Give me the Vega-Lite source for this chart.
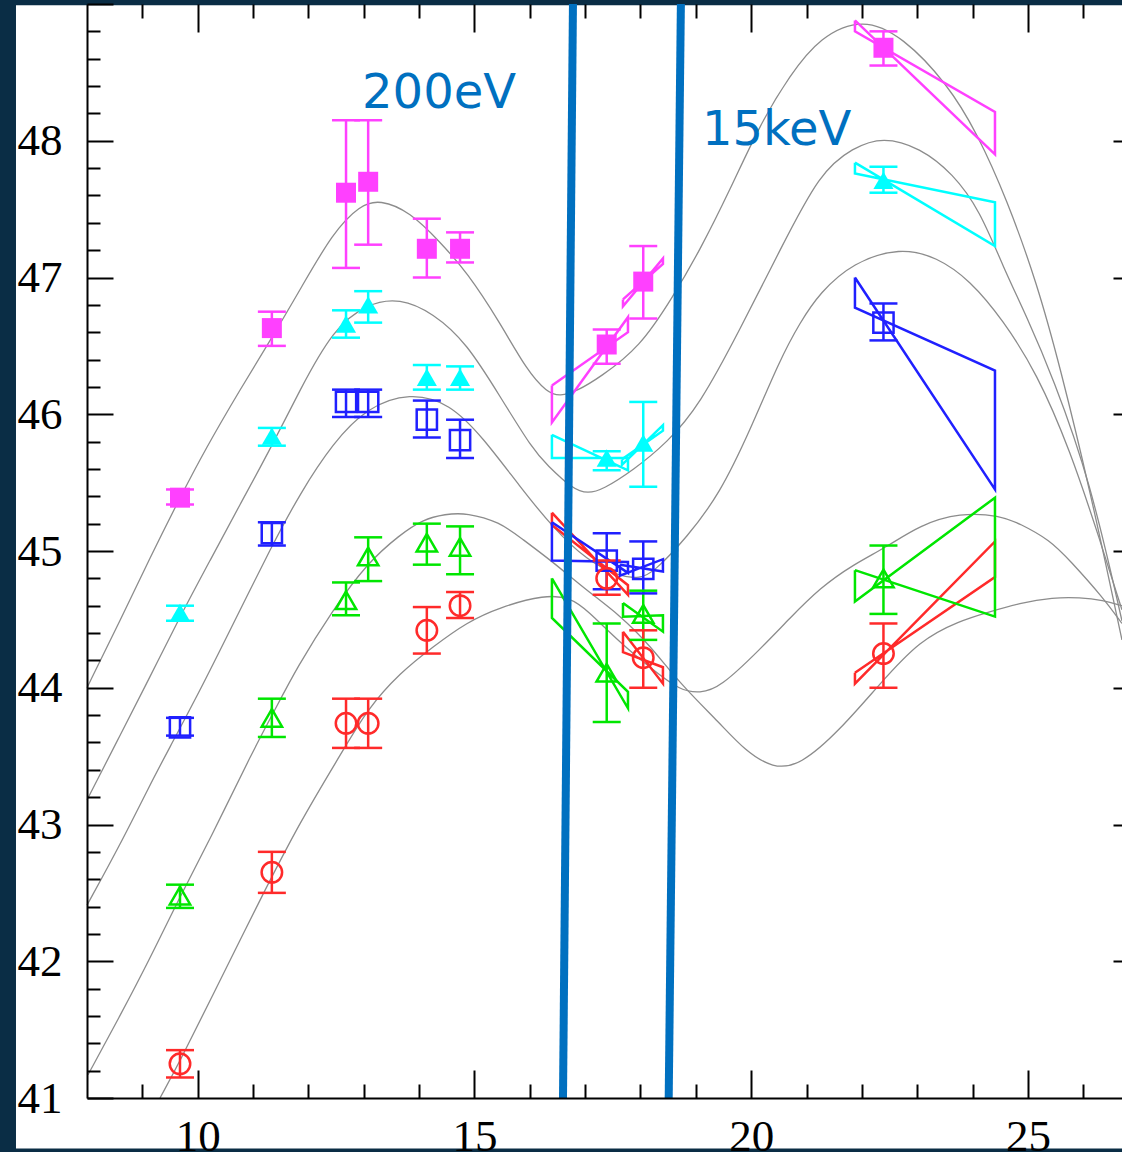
{
  "$schema": "https://vega.github.io/schema/vega-lite/v6.json",
  "width": 1035,
  "height": 1094,
  "autosize": {"type": "none"},
  "padding": {"left": 87, "top": 4, "right": 0, "bottom": 54},
  "background": "#0a2d45",
  "config": {
    "view": {"stroke": null},
    "axis": {"grid": false, "title": null, "zindex": 1, "domainColor": "#000000", "tickColor": "#000000", "labelColor": "#000000", "domainWidth": 2, "tickWidth": 2, "labelFont": "Liberation Serif", "labelFontSize": 45, "labelFlush": false, "labelOverlap": false}
  },
  "resolve": {"axis": {"x": "independent", "y": "independent"}},
  "datasets": {
    "bg": [{"x": 6.717, "x2": 27.5, "y": 40.63, "y2": 48.99}],
    "pts": [
      {"s": "mag", "x": 9.68, "y": 45.39, "lo": 45.34, "hi": 45.45},
      {"s": "mag", "x": 11.34, "y": 46.63, "lo": 46.50, "hi": 46.75},
      {"s": "mag", "x": 12.68, "y": 47.62, "lo": 47.07, "hi": 48.15},
      {"s": "mag", "x": 13.08, "y": 47.70, "lo": 47.24, "hi": 48.15},
      {"s": "mag", "x": 14.14, "y": 47.21, "lo": 47.00, "hi": 47.43},
      {"s": "mag", "x": 14.74, "y": 47.21, "lo": 47.11, "hi": 47.33},
      {"s": "mag", "x": 17.39, "y": 46.51, "lo": 46.37, "hi": 46.62},
      {"s": "mag", "x": 18.05, "y": 46.97, "lo": 46.70, "hi": 47.23},
      {"s": "mag", "x": 22.39, "y": 48.68, "lo": 48.55, "hi": 48.80},
      {"s": "cyan", "x": 9.68, "y": 44.55, "lo": 44.49, "hi": 44.60},
      {"s": "cyan", "x": 11.34, "y": 45.84, "lo": 45.77, "hi": 45.90},
      {"s": "cyan", "x": 12.68, "y": 46.66, "lo": 46.56, "hi": 46.76},
      {"s": "cyan", "x": 13.08, "y": 46.80, "lo": 46.67, "hi": 46.90},
      {"s": "cyan", "x": 14.14, "y": 46.27, "lo": 46.18, "hi": 46.36},
      {"s": "cyan", "x": 14.74, "y": 46.27, "lo": 46.18, "hi": 46.35},
      {"s": "cyan", "x": 17.39, "y": 45.68, "lo": 45.59, "hi": 45.73},
      {"s": "cyan", "x": 18.05, "y": 45.79, "lo": 45.47, "hi": 46.09},
      {"s": "cyan", "x": 22.39, "y": 47.71, "lo": 47.62, "hi": 47.81},
      {"s": "blue", "x": 9.68, "y": 43.71, "lo": 43.65, "hi": 43.78},
      {"s": "blue", "x": 11.34, "y": 45.13, "lo": 45.04, "hi": 45.21},
      {"s": "blue", "x": 12.68, "y": 46.09, "lo": 45.98, "hi": 46.18},
      {"s": "blue", "x": 13.08, "y": 46.09, "lo": 45.98, "hi": 46.18},
      {"s": "blue", "x": 14.14, "y": 45.96, "lo": 45.83, "hi": 46.10},
      {"s": "blue", "x": 14.74, "y": 45.81, "lo": 45.68, "hi": 45.96},
      {"s": "blue", "x": 17.39, "y": 44.93, "lo": 44.72, "hi": 45.13},
      {"s": "blue", "x": 18.05, "y": 44.87, "lo": 44.69, "hi": 45.07},
      {"s": "blue", "x": 22.39, "y": 46.67, "lo": 46.54, "hi": 46.81},
      {"s": "green", "x": 9.68, "y": 42.48, "lo": 42.39, "hi": 42.56},
      {"s": "green", "x": 11.34, "y": 43.78, "lo": 43.64, "hi": 43.92},
      {"s": "green", "x": 12.68, "y": 44.64, "lo": 44.53, "hi": 44.77},
      {"s": "green", "x": 13.08, "y": 44.96, "lo": 44.78, "hi": 45.10},
      {"s": "green", "x": 14.14, "y": 45.06, "lo": 44.90, "hi": 45.20},
      {"s": "green", "x": 14.74, "y": 45.03, "lo": 44.83, "hi": 45.18},
      {"s": "green", "x": 17.39, "y": 44.11, "lo": 43.75, "hi": 44.47},
      {"s": "green", "x": 18.05, "y": 44.54, "lo": 44.35, "hi": 44.71},
      {"s": "green", "x": 22.39, "y": 44.80, "lo": 44.54, "hi": 45.04},
      {"s": "red", "x": 9.68, "y": 41.25, "lo": 41.15, "hi": 41.35},
      {"s": "red", "x": 11.34, "y": 42.65, "lo": 42.50, "hi": 42.80},
      {"s": "red", "x": 12.68, "y": 43.74, "lo": 43.56, "hi": 43.92},
      {"s": "red", "x": 13.08, "y": 43.74, "lo": 43.56, "hi": 43.92},
      {"s": "red", "x": 14.14, "y": 44.42, "lo": 44.25, "hi": 44.59},
      {"s": "red", "x": 14.74, "y": 44.60, "lo": 44.51, "hi": 44.70},
      {"s": "red", "x": 17.39, "y": 44.80, "lo": 44.68, "hi": 44.93},
      {"s": "red", "x": 18.05, "y": 44.22, "lo": 44.00, "hi": 44.42},
      {"s": "red", "x": 22.39, "y": 44.25, "lo": 44.00, "hi": 44.47}
    ],
    "bows": [
      {"id": "mHX", "s": "mag", "o": 1, "x": 21.875, "y": 48.88}, {"id": "mHX", "s": "mag", "o": 2, "x": 24.405, "y": 47.90}, {"id": "mHX", "s": "mag", "o": 3, "x": 24.405, "y": 48.21}, {"id": "mHX", "s": "mag", "o": 4, "x": 21.875, "y": 48.80}, {"id": "mHX", "s": "mag", "o": 5, "x": 21.875, "y": 48.88},
      {"id": "cHX", "s": "cyan", "o": 1, "x": 21.875, "y": 47.84}, {"id": "cHX", "s": "cyan", "o": 2, "x": 24.405, "y": 47.23}, {"id": "cHX", "s": "cyan", "o": 3, "x": 24.405, "y": 47.55}, {"id": "cHX", "s": "cyan", "o": 4, "x": 21.875, "y": 47.76}, {"id": "cHX", "s": "cyan", "o": 5, "x": 21.875, "y": 47.84},
      {"id": "bHX", "s": "blue", "o": 1, "x": 21.875, "y": 47.00}, {"id": "bHX", "s": "blue", "o": 2, "x": 24.405, "y": 45.45}, {"id": "bHX", "s": "blue", "o": 3, "x": 24.405, "y": 46.32}, {"id": "bHX", "s": "blue", "o": 4, "x": 21.875, "y": 46.78}, {"id": "bHX", "s": "blue", "o": 5, "x": 21.875, "y": 47.00},
      {"id": "rHX", "s": "red", "o": 1, "x": 21.875, "y": 44.11}, {"id": "rHX", "s": "red", "o": 2, "x": 24.405, "y": 44.81}, {"id": "rHX", "s": "red", "o": 3, "x": 24.405, "y": 45.07}, {"id": "rHX", "s": "red", "o": 4, "x": 21.875, "y": 44.03}, {"id": "rHX", "s": "red", "o": 5, "x": 21.875, "y": 44.11},
      {"id": "gHX", "s": "green", "o": 1, "x": 21.875, "y": 44.86}, {"id": "gHX", "s": "green", "o": 2, "x": 24.405, "y": 44.52}, {"id": "gHX", "s": "green", "o": 3, "x": 24.405, "y": 45.39}, {"id": "gHX", "s": "green", "o": 4, "x": 21.875, "y": 44.63}, {"id": "gHX", "s": "green", "o": 5, "x": 21.875, "y": 44.86},
      {"id": "mS1", "s": "mag", "o": 1, "x": 16.40, "y": 46.21}, {"id": "mS1", "s": "mag", "o": 2, "x": 17.774, "y": 46.60}, {"id": "mS1", "s": "mag", "o": 3, "x": 17.774, "y": 46.71}, {"id": "mS1", "s": "mag", "o": 4, "x": 16.40, "y": 45.94}, {"id": "mS1", "s": "mag", "o": 5, "x": 16.40, "y": 46.21},
      {"id": "cS1", "s": "cyan", "o": 1, "x": 16.40, "y": 45.85}, {"id": "cS1", "s": "cyan", "o": 2, "x": 17.774, "y": 45.59}, {"id": "cS1", "s": "cyan", "o": 3, "x": 17.774, "y": 45.68}, {"id": "cS1", "s": "cyan", "o": 4, "x": 16.40, "y": 45.68}, {"id": "cS1", "s": "cyan", "o": 5, "x": 16.40, "y": 45.85},
      {"id": "rS1", "s": "red", "o": 1, "x": 16.40, "y": 45.28}, {"id": "rS1", "s": "red", "o": 2, "x": 17.774, "y": 44.68}, {"id": "rS1", "s": "red", "o": 3, "x": 17.774, "y": 44.75}, {"id": "rS1", "s": "red", "o": 4, "x": 16.40, "y": 45.19}, {"id": "rS1", "s": "red", "o": 5, "x": 16.40, "y": 45.28},
      {"id": "bS1", "s": "blue", "o": 1, "x": 16.40, "y": 45.21}, {"id": "bS1", "s": "blue", "o": 2, "x": 17.774, "y": 44.84}, {"id": "bS1", "s": "blue", "o": 3, "x": 17.774, "y": 44.92}, {"id": "bS1", "s": "blue", "o": 4, "x": 16.40, "y": 44.93}, {"id": "bS1", "s": "blue", "o": 5, "x": 16.40, "y": 45.21},
      {"id": "gS1", "s": "green", "o": 1, "x": 16.40, "y": 44.80}, {"id": "gS1", "s": "green", "o": 2, "x": 17.774, "y": 43.85}, {"id": "gS1", "s": "green", "o": 3, "x": 17.774, "y": 43.97}, {"id": "gS1", "s": "green", "o": 4, "x": 16.40, "y": 44.51}, {"id": "gS1", "s": "green", "o": 5, "x": 16.40, "y": 44.80},
      {"id": "mS2", "s": "mag", "o": 1, "x": 17.684, "y": 46.84}, {"id": "mS2", "s": "mag", "o": 2, "x": 18.406, "y": 47.10}, {"id": "mS2", "s": "mag", "o": 3, "x": 18.406, "y": 47.14}, {"id": "mS2", "s": "mag", "o": 4, "x": 17.684, "y": 46.79}, {"id": "mS2", "s": "mag", "o": 5, "x": 17.684, "y": 46.84},
      {"id": "cS2", "s": "cyan", "o": 1, "x": 17.666, "y": 45.67}, {"id": "cS2", "s": "cyan", "o": 2, "x": 18.406, "y": 45.88}, {"id": "cS2", "s": "cyan", "o": 3, "x": 18.406, "y": 45.92}, {"id": "cS2", "s": "cyan", "o": 4, "x": 17.666, "y": 45.63}, {"id": "cS2", "s": "cyan", "o": 5, "x": 17.666, "y": 45.67},
      {"id": "rS2", "s": "red", "o": 1, "x": 17.684, "y": 44.41}, {"id": "rS2", "s": "red", "o": 2, "x": 18.406, "y": 44.03}, {"id": "rS2", "s": "red", "o": 3, "x": 18.406, "y": 44.15}, {"id": "rS2", "s": "red", "o": 4, "x": 17.684, "y": 44.26}, {"id": "rS2", "s": "red", "o": 5, "x": 17.684, "y": 44.41},
      {"id": "bS2", "s": "blue", "o": 1, "x": 17.63, "y": 44.90}, {"id": "bS2", "s": "blue", "o": 2, "x": 18.406, "y": 44.85}, {"id": "bS2", "s": "blue", "o": 3, "x": 18.406, "y": 44.94}, {"id": "bS2", "s": "blue", "o": 4, "x": 17.63, "y": 44.82}, {"id": "bS2", "s": "blue", "o": 5, "x": 17.63, "y": 44.90},
      {"id": "gS2", "s": "green", "o": 1, "x": 17.684, "y": 44.62}, {"id": "gS2", "s": "green", "o": 2, "x": 18.406, "y": 44.41}, {"id": "gS2", "s": "green", "o": 3, "x": 18.406, "y": 44.53}, {"id": "gS2", "s": "green", "o": 4, "x": 17.684, "y": 44.52}, {"id": "gS2", "s": "green", "o": 5, "x": 17.684, "y": 44.62}
    ],
    "curves": [
      {"c": "M", "x": 8.000, "y": 44.00}, {"c": "M", "x": 8.596, "y": 44.49}, {"c": "M", "x": 9.138, "y": 44.95}, {"c": "M", "x": 9.680, "y": 45.39}, {"c": "M", "x": 10.132, "y": 45.74}, {"c": "M", "x": 10.764, "y": 46.18}, {"c": "M", "x": 11.342, "y": 46.56}, {"c": "M", "x": 11.848, "y": 46.91}, {"c": "M", "x": 12.444, "y": 47.33}, {"c": "M", "x": 12.932, "y": 47.53}, {"c": "M", "x": 13.294, "y": 47.57}, {"c": "M", "x": 13.836, "y": 47.48}, {"c": "M", "x": 14.378, "y": 47.26}, {"c": "M", "x": 14.865, "y": 47.04}, {"c": "M", "x": 15.462, "y": 46.67}, {"c": "M", "x": 15.949, "y": 46.32}, {"c": "M", "x": 16.311, "y": 46.16}, {"c": "M", "x": 16.546, "y": 46.13}, {"c": "M", "x": 16.853, "y": 46.17}, {"c": "M", "x": 17.268, "y": 46.27}, {"c": "M", "x": 17.991, "y": 46.49}, {"c": "M", "x": 18.588, "y": 46.86}, {"c": "M", "x": 19.075, "y": 47.20}, {"c": "M", "x": 19.617, "y": 47.64}, {"c": "M", "x": 20.159, "y": 48.12}, {"c": "M", "x": 20.701, "y": 48.48}, {"c": "M", "x": 21.243, "y": 48.76}, {"c": "M", "x": 22.020, "y": 48.90}, {"c": "M", "x": 22.742, "y": 48.76}, {"c": "M", "x": 23.537, "y": 48.42}, {"c": "M", "x": 24.079, "y": 48.06}, {"c": "M", "x": 24.621, "y": 47.57}, {"c": "M", "x": 25.163, "y": 46.96}, {"c": "M", "x": 25.579, "y": 46.35}, {"c": "M", "x": 26.121, "y": 45.45}, {"c": "M", "x": 26.699, "y": 44.35},
      {"c": "C", "x": 8.000, "y": 43.18}, {"c": "C", "x": 8.596, "y": 43.65}, {"c": "C", "x": 9.138, "y": 44.08}, {"c": "C", "x": 9.680, "y": 44.52}, {"c": "C", "x": 10.222, "y": 44.93}, {"c": "C", "x": 10.764, "y": 45.34}, {"c": "C", "x": 11.306, "y": 45.74}, {"c": "C", "x": 11.848, "y": 46.18}, {"c": "C", "x": 12.444, "y": 46.62}, {"c": "C", "x": 13.059, "y": 46.81}, {"c": "C", "x": 13.655, "y": 46.85}, {"c": "C", "x": 14.251, "y": 46.74}, {"c": "C", "x": 14.865, "y": 46.52}, {"c": "C", "x": 15.462, "y": 46.13}, {"c": "C", "x": 16.058, "y": 45.74}, {"c": "C", "x": 16.311, "y": 45.63}, {"c": "C", "x": 16.780, "y": 45.45}, {"c": "C", "x": 17.051, "y": 45.42}, {"c": "C", "x": 17.322, "y": 45.45}, {"c": "C", "x": 17.864, "y": 45.59}, {"c": "C", "x": 18.479, "y": 45.79}, {"c": "C", "x": 19.075, "y": 46.07}, {"c": "C", "x": 19.797, "y": 46.62}, {"c": "C", "x": 20.520, "y": 47.20}, {"c": "C", "x": 21.243, "y": 47.77}, {"c": "C", "x": 21.839, "y": 47.95}, {"c": "C", "x": 22.381, "y": 48.03}, {"c": "C", "x": 23.049, "y": 47.95}, {"c": "C", "x": 23.646, "y": 47.76}, {"c": "C", "x": 24.133, "y": 47.49}, {"c": "C", "x": 24.549, "y": 47.08}, {"c": "C", "x": 24.983, "y": 46.71}, {"c": "C", "x": 25.452, "y": 46.27}, {"c": "C", "x": 26.121, "y": 45.52}, {"c": "C", "x": 26.699, "y": 44.49},
      {"c": "B", "x": 8.000, "y": 42.41}, {"c": "B", "x": 8.596, "y": 42.85}, {"c": "B", "x": 9.138, "y": 43.29}, {"c": "B", "x": 9.463, "y": 43.54}, {"c": "B", "x": 10.042, "y": 43.98}, {"c": "B", "x": 10.584, "y": 44.42}, {"c": "B", "x": 11.342, "y": 45.04}, {"c": "B", "x": 11.848, "y": 45.42}, {"c": "B", "x": 12.444, "y": 45.79}, {"c": "B", "x": 13.059, "y": 46.05}, {"c": "B", "x": 13.836, "y": 46.16}, {"c": "B", "x": 14.558, "y": 46.08}, {"c": "B", "x": 15.154, "y": 45.83}, {"c": "B", "x": 15.823, "y": 45.47}, {"c": "B", "x": 16.419, "y": 45.17}, {"c": "B", "x": 17.033, "y": 44.93}, {"c": "B", "x": 17.630, "y": 44.81}, {"c": "B", "x": 17.991, "y": 44.80}, {"c": "B", "x": 18.226, "y": 44.84}, {"c": "B", "x": 18.840, "y": 45.10}, {"c": "B", "x": 19.436, "y": 45.42}, {"c": "B", "x": 19.978, "y": 45.88}, {"c": "B", "x": 20.520, "y": 46.40}, {"c": "B", "x": 20.881, "y": 46.67}, {"c": "B", "x": 21.243, "y": 46.89}, {"c": "B", "x": 21.839, "y": 47.11}, {"c": "B", "x": 22.688, "y": 47.22}, {"c": "B", "x": 23.357, "y": 47.15}, {"c": "B", "x": 23.953, "y": 46.98}, {"c": "B", "x": 24.549, "y": 46.69}, {"c": "B", "x": 25.163, "y": 46.30}, {"c": "B", "x": 25.760, "y": 45.74}, {"c": "B", "x": 26.302, "y": 45.08}, {"c": "B", "x": 26.699, "y": 44.57},
      {"c": "G", "x": 8.018, "y": 41.17}, {"c": "G", "x": 8.596, "y": 41.60}, {"c": "G", "x": 9.138, "y": 42.02}, {"c": "G", "x": 9.626, "y": 42.43}, {"c": "G", "x": 10.222, "y": 42.89}, {"c": "G", "x": 10.999, "y": 43.54}, {"c": "G", "x": 11.360, "y": 43.81}, {"c": "G", "x": 11.794, "y": 44.15}, {"c": "G", "x": 12.444, "y": 44.57}, {"c": "G", "x": 13.059, "y": 44.91}, {"c": "G", "x": 13.655, "y": 45.12}, {"c": "G", "x": 14.070, "y": 45.23}, {"c": "G", "x": 14.468, "y": 45.27}, {"c": "G", "x": 14.865, "y": 45.28}, {"c": "G", "x": 15.462, "y": 45.21}, {"c": "G", "x": 15.823, "y": 45.10}, {"c": "G", "x": 16.419, "y": 44.92}, {"c": "G", "x": 17.033, "y": 44.71}, {"c": "G", "x": 17.630, "y": 44.53}, {"c": "G", "x": 18.172, "y": 44.31}, {"c": "G", "x": 18.714, "y": 44.03}, {"c": "G", "x": 19.436, "y": 43.74}, {"c": "G", "x": 19.888, "y": 43.54}, {"c": "G", "x": 20.394, "y": 43.41}, {"c": "G", "x": 20.881, "y": 43.43}, {"c": "G", "x": 21.604, "y": 43.69}, {"c": "G", "x": 22.327, "y": 44.03}, {"c": "G", "x": 23.049, "y": 44.35}, {"c": "G", "x": 23.772, "y": 44.49}, {"c": "G", "x": 24.260, "y": 44.55}, {"c": "G", "x": 24.856, "y": 44.62}, {"c": "G", "x": 25.452, "y": 44.66}, {"c": "G", "x": 25.940, "y": 44.66}, {"c": "G", "x": 26.356, "y": 44.64}, {"c": "G", "x": 26.699, "y": 44.60},
      {"c": "R", "x": 9.319, "y": 41.00}, {"c": "R", "x": 9.680, "y": 41.27}, {"c": "R", "x": 10.222, "y": 41.71}, {"c": "R", "x": 11.126, "y": 42.45}, {"c": "R", "x": 11.848, "y": 43.02}, {"c": "R", "x": 12.625, "y": 43.54}, {"c": "R", "x": 13.059, "y": 43.84}, {"c": "R", "x": 13.655, "y": 44.11}, {"c": "R", "x": 14.251, "y": 44.30}, {"c": "R", "x": 14.865, "y": 44.48}, {"c": "R", "x": 15.462, "y": 44.59}, {"c": "R", "x": 16.275, "y": 44.68}, {"c": "R", "x": 16.727, "y": 44.66}, {"c": "R", "x": 17.033, "y": 44.57}, {"c": "R", "x": 17.630, "y": 44.33}, {"c": "R", "x": 18.226, "y": 44.13}, {"c": "R", "x": 18.714, "y": 43.98}, {"c": "R", "x": 19.075, "y": 43.96}, {"c": "R", "x": 19.436, "y": 44.00}, {"c": "R", "x": 20.159, "y": 44.28}, {"c": "R", "x": 20.701, "y": 44.51}, {"c": "R", "x": 21.243, "y": 44.73}, {"c": "R", "x": 21.839, "y": 44.90}, {"c": "R", "x": 22.453, "y": 45.03}, {"c": "R", "x": 23.049, "y": 45.19}, {"c": "R", "x": 23.772, "y": 45.28}, {"c": "R", "x": 24.495, "y": 45.26}, {"c": "R", "x": 24.856, "y": 45.20}, {"c": "R", "x": 25.398, "y": 45.08}, {"c": "R", "x": 25.760, "y": 44.93}, {"c": "R", "x": 26.356, "y": 44.66}, {"c": "R", "x": 26.699, "y": 44.47}
    ],
    "vlines": [
      {"id": "a", "x": 16.78, "y": 49}, {"id": "a", "x": 16.60, "y": 41},
      {"id": "b", "x": 18.73, "y": 49}, {"id": "b", "x": 18.51, "y": 41}
    ],
    "labels": [
      {"t": "200eV", "x": 12.97, "y": 48.24},
      {"t": "15keV", "x": 19.11, "y": 47.97}
    ]
  },
  "layer": [
    {
      "data": {"name": "bg"},
      "mark": {"type": "rect", "fill": "#ffffff", "stroke": null},
      "encoding": {
        "x": {"field": "x", "type": "quantitative", "scale": {"domain": [8, 26.7], "nice": false, "zero": false},
              "axis": {"orient": "bottom", "zindex": 2, "values": [10, 15, 20, 25], "ticks": false, "domain": false, "labelPadding": 16}},
        "x2": {"field": "x2"},
        "y": {"field": "y", "type": "quantitative", "scale": {"domain": [41, 49], "nice": false, "zero": false},
              "axis": {"orient": "left", "zindex": 2, "values": [41, 42, 43, 44, 45, 46, 47, 48], "ticks": false, "domain": false, "labelPadding": 25}},
        "y2": {"field": "y2"}
      }
    },
    {
      "data": {"name": "curves"},
      "mark": {"type": "line", "color": "#8c8c8c", "strokeWidth": 1.3, "interpolate": "basis"},
      "encoding": {
        "x": {"field": "x", "type": "quantitative", "scale": {"domain": [8, 26.7], "nice": false, "zero": false},
              "axis": {"orient": "bottom", "zindex": 2, "values": [10, 15, 20, 25], "labels": false, "tickSize": -28, "domain": true}},
        "y": {"field": "y", "type": "quantitative", "scale": {"domain": [41, 49], "nice": false, "zero": false},
              "axis": {"orient": "left", "zindex": 2, "values": [41, 42, 43, 44, 45, 46, 47, 48, 49], "labels": false, "tickSize": -26, "domain": true}},
        "detail": {"field": "c", "type": "nominal"}
      }
    },
    {
      "data": {"name": "bows"},
      "mark": {"type": "line", "strokeWidth": 2.5, "interpolate": "linear"},
      "encoding": {
        "x": {"field": "x", "type": "quantitative", "scale": {"domain": [8, 26.7], "nice": false, "zero": false},
              "axis": {"orient": "bottom", "zindex": 2, "values": [9, 11, 12, 13, 14, 16, 17, 18, 19, 21, 22, 23, 24, 26], "labels": false, "tickSize": -14, "domain": false}},
        "y": {"field": "y", "type": "quantitative", "scale": {"domain": [41, 49], "nice": false, "zero": false},
              "axis": {"orient": "left", "zindex": 2, "values": [41.2, 41.4, 41.6, 41.8, 42.2, 42.4, 42.6, 42.8, 43.2, 43.4, 43.6, 43.8, 44.2, 44.4, 44.6, 44.8, 45.2, 45.4, 45.6, 45.8, 46.2, 46.4, 46.6, 46.8, 47.2, 47.4, 47.6, 47.8, 48.2, 48.4, 48.6, 48.8], "labels": false, "tickSize": -13, "domain": false}},
        "detail": {"field": "id", "type": "nominal"},
        "order": {"field": "o", "type": "quantitative"},
        "color": {"field": "s", "type": "nominal", "scale": {"domain": ["mag", "cyan", "blue", "green", "red"], "range": ["#ff40ff", "#00ffff", "#2020ff", "#00e600", "#ff2a2a"]}, "legend": null}
      }
    },
    {
      "data": {"name": "pts"},
      "mark": {"type": "rule", "strokeWidth": 2.5},
      "encoding": {
        "x": {"field": "x", "type": "quantitative", "scale": {"domain": [8, 26.7], "nice": false, "zero": false},
              "axis": {"orient": "top", "zindex": 2, "values": [10, 15, 20, 25], "labels": false, "tickSize": -28, "domain": false}},
        "y": {"field": "lo", "type": "quantitative", "scale": {"domain": [41, 49], "nice": false, "zero": false},
              "axis": {"orient": "right", "zindex": 2, "values": [42, 43, 44, 45, 46, 47, 48], "labels": false, "tickSize": -9, "domain": false}},
        "y2": {"field": "hi"},
        "color": {"field": "s", "type": "nominal", "scale": {"domain": ["mag", "cyan", "blue", "green", "red"], "range": ["#ff40ff", "#00ffff", "#2020ff", "#00e600", "#ff2a2a"]}, "legend": null}
      }
    },
    {
      "data": {"name": "pts"},
      "mark": {"type": "tick", "orient": "horizontal", "size": 28, "thickness": 2.5, "opacity": 1},
      "encoding": {
        "x": {"field": "x", "type": "quantitative", "scale": {"domain": [8, 26.7], "nice": false, "zero": false},
              "axis": {"orient": "top", "zindex": 2, "values": [9, 11, 12, 13, 14, 16, 17, 18, 19, 21, 22, 23, 24, 26], "labels": false, "tickSize": -14, "domain": false}},
        "y": {"field": "lo", "type": "quantitative", "scale": {"domain": [41, 49], "nice": false, "zero": false}, "axis": null},
        "color": {"field": "s", "type": "nominal", "scale": {"domain": ["mag", "cyan", "blue", "green", "red"], "range": ["#ff40ff", "#00ffff", "#2020ff", "#00e600", "#ff2a2a"]}, "legend": null}
      }
    },
    {
      "data": {"name": "pts"},
      "mark": {"type": "tick", "orient": "horizontal", "size": 28, "thickness": 2.5, "opacity": 1},
      "encoding": {
        "x": {"field": "x", "type": "quantitative", "scale": {"domain": [8, 26.7], "nice": false, "zero": false}, "axis": null},
        "y": {"field": "hi", "type": "quantitative", "scale": {"domain": [41, 49], "nice": false, "zero": false}, "axis": null},
        "color": {"field": "s", "type": "nominal", "scale": {"domain": ["mag", "cyan", "blue", "green", "red"], "range": ["#ff40ff", "#00ffff", "#2020ff", "#00e600", "#ff2a2a"]}, "legend": null}
      }
    },
    {
      "data": {"name": "pts"},
      "transform": [{"filter": "datum.s === 'mag' || datum.s === 'cyan'"}],
      "mark": {"type": "point", "filled": true, "opacity": 1, "strokeWidth": 0},
      "encoding": {
        "x": {"field": "x", "type": "quantitative", "scale": {"domain": [8, 26.7], "nice": false, "zero": false}, "axis": null},
        "y": {"field": "y", "type": "quantitative", "scale": {"domain": [41, 49], "nice": false, "zero": false}, "axis": null},
        "color": {"field": "s", "type": "nominal", "scale": {"domain": ["mag", "cyan", "blue", "green", "red"], "range": ["#ff40ff", "#00ffff", "#2020ff", "#00e600", "#ff2a2a"]}, "legend": null},
        "shape": {"field": "s", "type": "nominal", "scale": {"domain": ["mag", "cyan", "blue", "green", "red"], "range": ["square", "triangle-up", "square", "triangle-up", "circle"]}, "legend": null},
        "size": {"field": "s", "type": "nominal", "scale": {"domain": ["mag", "cyan", "blue", "green", "red"], "range": [400, 420, 330, 470, 560]}, "legend": null}
      }
    },
    {
      "data": {"name": "pts"},
      "transform": [{"filter": "datum.s !== 'mag' && datum.s !== 'cyan'"}],
      "mark": {"type": "point", "filled": false, "opacity": 1, "strokeWidth": 2.5},
      "encoding": {
        "x": {"field": "x", "type": "quantitative", "scale": {"domain": [8, 26.7], "nice": false, "zero": false}, "axis": null},
        "y": {"field": "y", "type": "quantitative", "scale": {"domain": [41, 49], "nice": false, "zero": false}, "axis": null},
        "color": {"field": "s", "type": "nominal", "scale": {"domain": ["mag", "cyan", "blue", "green", "red"], "range": ["#ff40ff", "#00ffff", "#2020ff", "#00e600", "#ff2a2a"]}, "legend": null},
        "shape": {"field": "s", "type": "nominal", "scale": {"domain": ["mag", "cyan", "blue", "green", "red"], "range": ["square", "triangle-up", "square", "triangle-up", "circle"]}, "legend": null},
        "size": {"field": "s", "type": "nominal", "scale": {"domain": ["mag", "cyan", "blue", "green", "red"], "range": [400, 420, 330, 470, 560]}, "legend": null}
      }
    },
    {
      "data": {"name": "vlines"},
      "mark": {"type": "line", "color": "#0070c0", "strokeWidth": 8},
      "encoding": {
        "x": {"field": "x", "type": "quantitative", "scale": {"domain": [8, 26.7], "nice": false, "zero": false}, "axis": null},
        "y": {"field": "y", "type": "quantitative", "scale": {"domain": [41, 49], "nice": false, "zero": false}, "axis": null},
        "detail": {"field": "id", "type": "nominal"},
        "order": {"field": "y", "type": "quantitative"}
      }
    },
    {
      "data": {"name": "labels"},
      "mark": {"type": "text", "font": "DejaVu Sans", "fontSize": 48, "color": "#0070c0", "align": "left", "baseline": "alphabetic"},
      "encoding": {
        "x": {"field": "x", "type": "quantitative", "scale": {"domain": [8, 26.7], "nice": false, "zero": false}, "axis": null},
        "y": {"field": "y", "type": "quantitative", "scale": {"domain": [41, 49], "nice": false, "zero": false}, "axis": null},
        "text": {"field": "t", "type": "nominal"}
      }
    }
  ]
}
